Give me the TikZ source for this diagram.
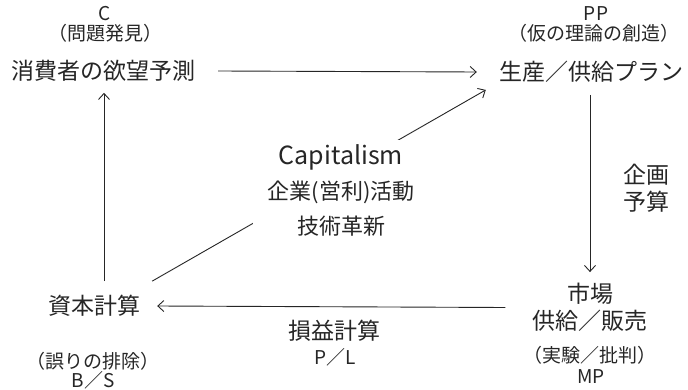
\documentclass[tikz,border=0pt]{standalone}
\usepackage{fontspec}
\setmainfont{Noto Sans CJK JP}
\usetikzlibrary{arrows.meta}
\definecolor{ink}{HTML}{262626}
\begin{document}
\begin{tikzpicture}[x=1pt,y=-1pt,
  big/.style={font=\fontsize{23}{27}\selectfont, text=ink, inner sep=0pt, align=center},
  small/.style={font=\fontsize{19}{22}\selectfont, text=ink, inner sep=0pt},
  conn/.style={draw=ink, line width=0.9pt},
  arr/.style={conn, -{Straight Barb[length=6pt,width=11pt,line width=0.9pt]}}]
\useasboundingbox[fill=white] (0,0) rectangle (688,390);
% top left
\node[small] (cc) at (105,14) {C};
\node[small] (ccq) at (105,33) {（問題発見）};
\node[big] (C) at (104,71) {消費者の欲望予測};
% top right
\node[small] (pp) at (596,14) {PP};
\node[small] (ppq) at (594,33) {（仮の理論の創造）};
\node[big] (P) at (591,72) {生産／供給プラン};
% right bottom
\node[big] (M) at (590,307.5) {市場\\供給／販売};
\node[small] (mq) at (590,355) {（実験／批判）};
\node[small] (mp) at (591,377) {MP};
% left bottom
\node[big] (K) at (94,306) {資本計算};
\node[small] (kq) at (93,361) {（誤りの排除）};
\node[small] (bs) at (93,380) {B／S};
% side labels
\node[big] (plan) at (646,188) {企画\\予算};
\node[big] (pl) at (334,331) {損益計算};
\node[small] (pl2) at (335,357) {P／L};
% connectors
\draw[arr] ([xshift=22pt]C.east) -- ([xshift=-22pt]P.west);
\draw[arr] (P.south -| 590,0) ++(0,12) -- ([yshift=11pt]M.north);
\draw[arr] ([xshift=-27pt]M.west) -- ([xshift=17pt]K.east);
\draw[arr] ([yshift=14pt]K.north -| C.south) -- ([yshift=-11pt]C.south);
\draw[arr] ([xshift=12pt,yshift=14pt]K.north east) -- ([xshift=-13pt,yshift=-7pt]P.south west);
% centre
\node[big, fill=white, inner xsep=15pt, inner ysep=4pt, font=\fontsize{22}{35}\selectfont] (cap) at (341,190) {{\fontsize{25}{35}\selectfont Capitalism}\\企業(営利)活動\\技術革新};
\end{tikzpicture}
\end{document}
